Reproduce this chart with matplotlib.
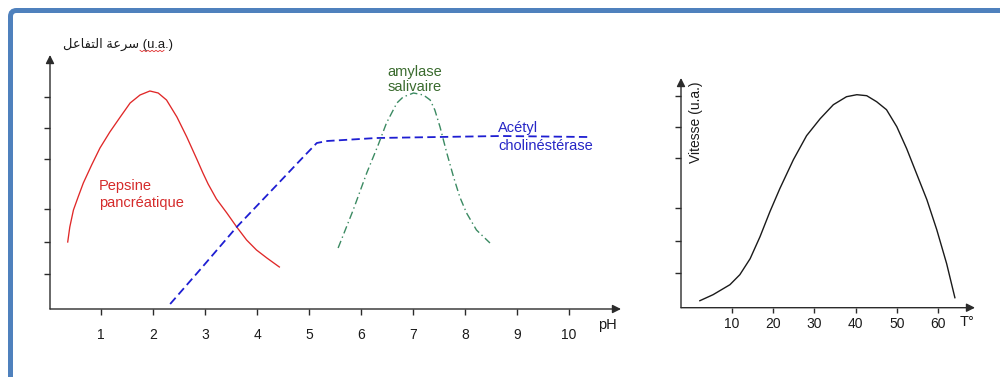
import matplotlib
matplotlib.use('Agg')
import matplotlib.pyplot as plt
from matplotlib.patches import FancyBboxPatch
from matplotlib.transforms import IdentityTransform
from matplotlib.lines import Line2D

plt.rcParams['font.family'] = ['Liberation Sans', 'DejaVu Sans']

# ---------------- data ----------------
ph_ticks = [1, 2, 3, 4, 5, 6, 7, 8, 9, 10]
rate_ticks = [35, 67, 100, 150, 181, 212]

pepsine_ph = [0.36, 0.40, 0.47, 0.56, 0.66, 0.82, 0.98, 1.17, 1.37, 1.56, 1.75, 1.94,
              2.10, 2.26, 2.46, 2.65, 2.85, 2.96, 3.06, 3.22, 3.42, 3.61, 3.80, 3.99, 4.19, 4.43]
pepsine_v = [67, 82, 99, 112, 126, 144, 161, 177, 192, 206, 214, 218,
             216, 209, 192, 172, 149, 136, 125, 110, 96, 82, 69, 59, 51, 42]

acetyl_ph = [2.33, 2.90, 3.61, 4.38, 4.89, 5.15, 5.35, 6.30, 7.50, 8.70, 10.35]
acetyl_v = [5, 39, 82, 124, 152, 166, 168, 171, 172, 173, 172]

amylase_ph = [5.56, 5.85, 6.11, 6.33, 6.49, 6.69, 6.81, 7.01, 7.20, 7.33, 7.42,
              7.52, 7.65, 7.78, 7.90, 8.03, 8.22, 8.48]
amylase_v = [61, 99, 136, 164, 186, 206, 212, 216, 214, 209, 199,
             182, 156, 132, 112, 96, 79, 66]

temp_ticks = [10, 20, 30, 40, 50, 60]
temp_T = [2.2, 5.4, 9.5, 11.9, 14.4, 16.8, 19.2, 21.6, 24.9, 28.1, 31.4, 34.6,
          37.8, 40.3, 42.7, 45.1, 47.5, 50.0, 52.4, 54.8, 57.3, 59.7, 62.1, 64.1]
temp_v = [7, 13, 23, 33, 49, 71, 96, 119, 148, 172, 189, 203,
          211, 213, 212, 206, 198, 181, 159, 134, 108, 78, 44, 10]

# ---------------- figure ----------------
W, H = 1000, 377
fig = plt.figure(figsize=(10, 3.77), dpi=100)
fig.patch.set_facecolor('white')

AXC = '#2b2b2b'


def axes_px(x0, x1, ytop, ybot):
    ax = fig.add_axes([x0 / W, 1 - ybot / H, (x1 - x0) / W, (ybot - ytop) / H])
    ax.patch.set_alpha(0)
    for s in ax.spines.values():
        s.set_visible(False)
    return ax


def arrow_axes(ax):
    style = '-|>,head_length=0.5,head_width=0.25'
    for tip in [(1, 0), (0, 1)]:
        ax.annotate('', xy=tip, xytext=(0, 0), xycoords='axes fraction',
                    textcoords='axes fraction', annotation_clip=False,
                    arrowprops=dict(arrowstyle=style, mutation_scale=10, lw=1.0,
                                    color=AXC, shrinkA=0, shrinkB=0))


def ftext(px, py, s, **kw):
    return fig.text(px / W, 1 - py / H, s, **kw)


# ---- left chart (pH) ----
ax1 = axes_px(50, 621, 55, 309)
ax1.set_xlim((50 - 49) / 52, (621 - 49) / 52)
ax1.set_ylim(0, 254)
arrow_axes(ax1)
ax1.set_xticks(ph_ticks)
ax1.set_xticklabels([str(t) for t in ph_ticks])
ax1.set_yticks(rate_ticks)
ax1.tick_params(axis='x', direction='out', length=4.3, width=1, color=AXC,
                labelsize=10, labelcolor='#1a1a1a', pad=9.2)
ax1.tick_params(axis='y', direction='out', length=4.3, width=1, color=AXC,
                labelleft=False)

ax1.plot(pepsine_ph, pepsine_v, color='#E02828', lw=0.95, clip_on=False)
ax1.plot(acetyl_ph, acetyl_v, color='#1E1ED2', lw=1.3, dashes=(4.6, 2.4),
         clip_on=False)
ax1.plot(amylase_ph, amylase_v, color='#3B8A62', lw=1.0,
         dashes=(5.5, 2.4, 1.0, 2.4), clip_on=False)

ftext(99, 190, 'Pepsine', color='#D52B2B', fontsize=10.5, va='baseline')
ftext(99, 207.5, 'pancréatique', color='#D52B2B', fontsize=10.5, va='baseline')
ftext(415, 76, 'amylase', color='#3A6B2E', fontsize=10.5, va='baseline', ha='center')
ftext(415, 91, 'salivaire', color='#3A6B2E', fontsize=10.5, va='baseline', ha='center')
ftext(498, 131.5, 'Acétyl', color='#2626C6', fontsize=10.5, va='baseline')
ftext(498, 150, 'cholinéstérase', color='#2626C6', fontsize=10.5, va='baseline')
ftext(607, 325, 'pH', color='#1a1a1a', fontsize=10.5, va='center', ha='center')

# Arabic label (presentation forms, visual order)
ar = '\uFEDE\uFECB\uFE8E\uFED4\uFE98\uFEDF\uFE8D \uFE94\uFECB\uFEAE\uFEB3'
ftext(63, 48, ar + ' (u.a.)', color='#1a1a1a', fontsize=9.4, va='baseline')
# spell-check squiggle under "u.a."
zx = [140 + i * 2 for i in range(13)]
zy = [50.5 + (1.2 if i % 2 else -0.2) for i in range(13)]
fig.add_artist(Line2D(zx, [H - y for y in zy], transform=IdentityTransform(),
                      color='#E03030', lw=0.6))

# ---- right chart (temperature) ----
ax2 = axes_px(681, 975, 78, 307.7)
ax2.set_xlim((681 - 690.8) / 4.12, (975 - 690.8) / 4.12)
ax2.set_ylim(0, 229.7)
arrow_axes(ax2)
ax2.set_xticks(temp_ticks)
ax2.set_xticklabels([str(t) for t in temp_ticks])
ax2.set_yticks(rate_ticks)
ax2.tick_params(axis='x', direction='out', length=3.6, width=1, color=AXC,
                labelsize=10, labelcolor='#1a1a1a', pad=3.4)
ax2.tick_params(axis='y', direction='out', length=4.3, width=1, color=AXC,
                labelleft=False)
ax2.plot(temp_T, temp_v, color='#1a1a1a', lw=1.0, clip_on=False)

ftext(967, 322, 'T°', color='#1a1a1a', fontsize=10.5, va='center', ha='center')
ftext(696, 163, 'Vitesse (u.a.)', color='#1a1a1a', fontsize=10, rotation=90,
      ha='center', va='bottom')

# ---- blue frame (top & left edges) ----
frame = FancyBboxPatch((10.5, -60), 1200, (H - 10.5) + 60,
                       boxstyle='round,pad=0,rounding_size=6',
                       transform=IdentityTransform(), fc='none',
                       ec='#4F81BD', lw=3.6)
fig.add_artist(frame)

fig.savefig('out.png', dpi=100)
